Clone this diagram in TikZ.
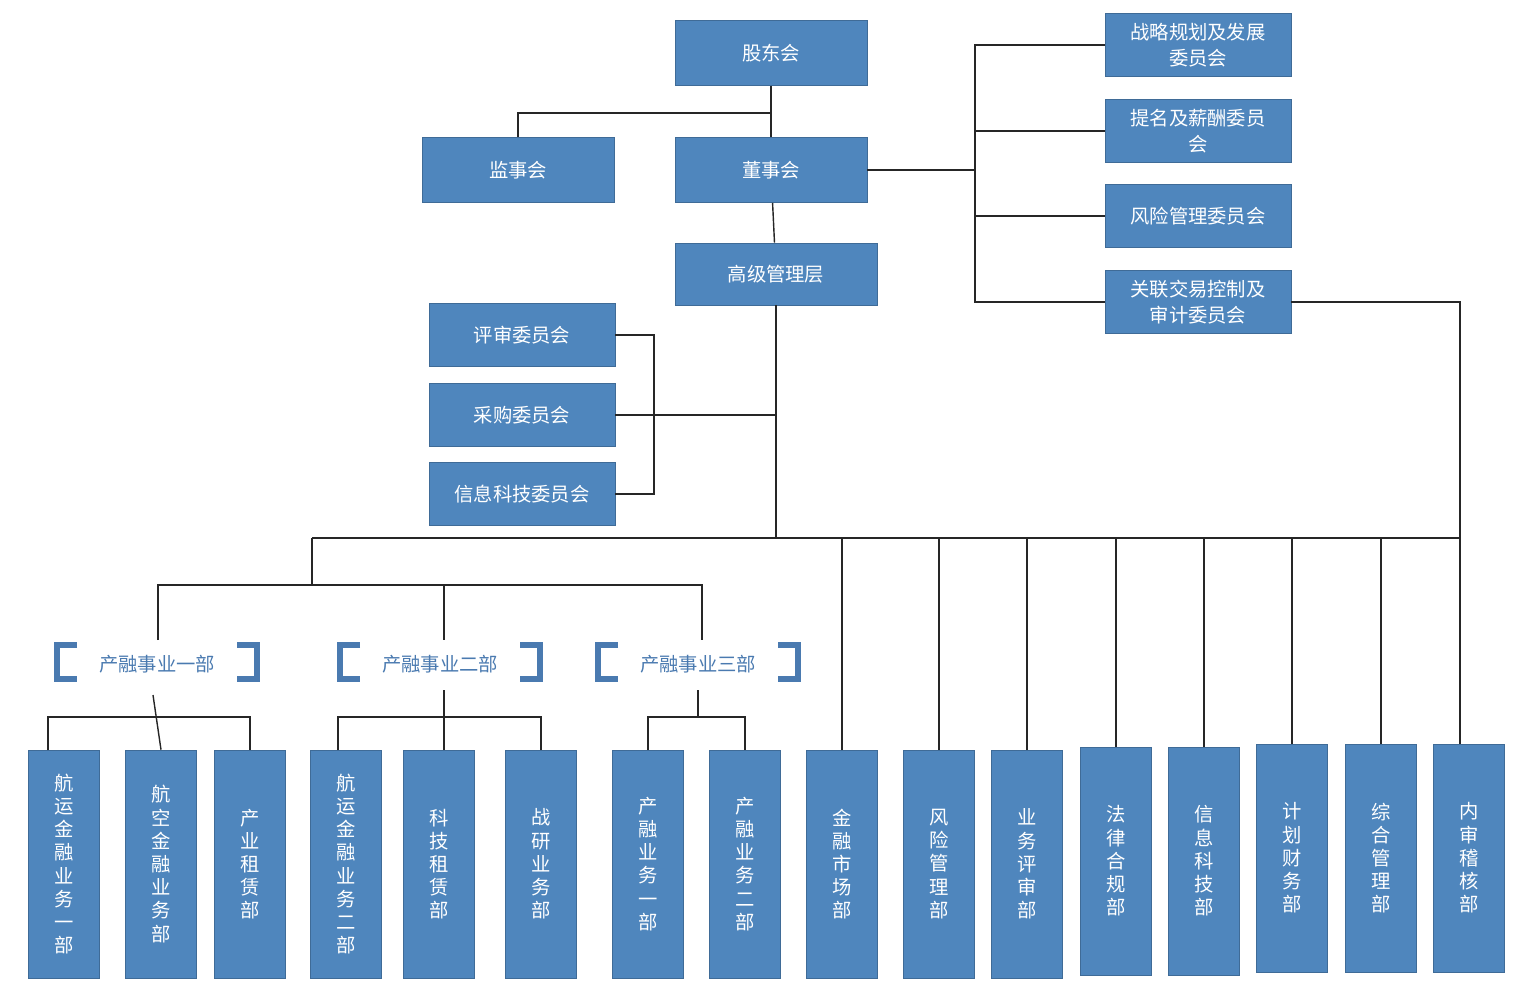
\documentclass[tikz,border=0pt]{standalone}
\usepackage{fontspec}
\setmainfont{Noto Sans CJK SC}
\usetikzlibrary{positioning}
\definecolor{boxblue}{HTML}{4F86BD}
\definecolor{labelblue}{HTML}{4A7AB0}

\begin{document}
\begin{tikzpicture}[x=0.02cm, y=-0.02cm,
  box/.style={rectangle, draw=boxblue!80!black, fill=boxblue, text=white, minimum width=3.84cm, minimum height=1.3cm, inner sep=1pt, align=center, font=\fontsize{11}{15}\selectfont},
  cbox/.style={box, minimum width=3.72cm, minimum height=1.26cm, text width=3.4cm},
  vbox/.style={rectangle, draw=boxblue!80!black, fill=boxblue, text=white, minimum width=1.42cm, minimum height=4.56cm, inner sep=1pt, align=center, font=\fontsize{11}{13.2}\selectfont},
  tag/.style={text=labelblue, font=\fontsize{11}{13}\selectfont},
  link/.style={draw=black!85, line width=0.8pt},
  brk/.style={draw=labelblue, line width=3pt}]
\useasboundingbox (0,0) rectangle (1516,992);

% top level
\node (gudong) [box] at (771,53) {股东会};
\node (jianshi) [box] at (518,170) {监事会};
\node (dongshi) [box] at (771,170) {董事会};
\node (gaoguan) [box, minimum width=4.04cm, minimum height=1.24cm] at (776,274) {高级管理层};

% board committees
\node (zhanlue) [cbox] at (1198,45) {战略规划及发展\\委员会};
\node (timing) [cbox] at (1198,131) {提名及薪酬委员\\会};
\node (fengxian) [cbox] at (1198,216) {风险管理委员会};
\node (guanlian) [cbox] at (1198,302) {关联交易控制及\\审计委员会};

% management committees
\node (pingshen) [cbox] at (522,335) {评审委员会};
\node (caigou) [cbox] at (522,415) {采购委员会};
\node (xinxi) [cbox] at (522,494) {信息科技委员会};

% business groups
\node (cr1) [tag] at (157,664) {产融事业一部};
\node (cr2) [tag] at (440,664) {产融事业二部};
\node (cr3) [tag] at (698,664) {产融事业三部};
\foreach \c in {157,440,698} {
  \draw[brk] (\c-80,645) -- (\c-100,645) -- (\c-100,679) -- (\c-80,679);
  \draw[brk] (\c+80,645) -- (\c+100,645) -- (\c+100,679) -- (\c+80,679);
}

% departments
\node (d1) [vbox] at (64,864) {航\\运\\金\\融\\业\\务\\一\\部};
\node (d2) [vbox] at (161,864) {航\\空\\金\\融\\业\\务\\部};
\node (d3) [vbox] at (250,864) {产\\业\\租\\赁\\部};
\node (d4) [vbox] at (346,864) {航\\运\\金\\融\\业\\务\\二\\部};
\node (d5) [vbox] at (439,864) {科\\技\\租\\赁\\部};
\node (d6) [vbox] at (541,864) {战\\研\\业\\务\\部};
\node (d7) [vbox] at (648,864) {产\\融\\业\\务\\一\\部};
\node (d8) [vbox] at (745,864) {产\\融\\业\\务\\二\\部};
\node (d9) [vbox] at (842,864) {金\\融\\市\\场\\部};
\node (d10) [vbox] at (939,864) {风\\险\\管\\理\\部};
\node (d11) [vbox] at (1027,864) {业\\务\\评\\审\\部};
\node (d12) [vbox] at (1116,861) {法\\律\\合\\规\\部};
\node (d13) [vbox] at (1204,861) {信\\息\\科\\技\\部};
\node (d14) [vbox] at (1292,858) {计\\划\\财\\务\\部};
\node (d15) [vbox] at (1381,858) {综\\合\\管\\理\\部};
\node (d16) [vbox] at (1469,858) {内\\审\\稽\\核\\部};

% connectors
\draw[link] (gudong) -- (dongshi);
\draw[link] (771,113) -| (jianshi);
\draw[link] (dongshi) -- (gaoguan);
\draw[link] (dongshi.east) -- (975,170);
\draw[link] (zhanlue.west) -- (975,45) -- (975,302) -- (guanlian.west);
\draw[link] (timing.west) -- (975,131);
\draw[link] (fengxian.west) -- (975,216);
\draw[link] (pingshen.east) -- (654,335) -- (654,494) -- (xinxi.east);
\draw[link] (caigou.east) -- (gaoguan.south |- caigou.east);
\draw[link] (gaoguan.south) -- (776,538);
\draw[link] (guanlian.east) -| (1460,744);
\draw[link] (312,538) -- (1460,538);
\draw[link] (312,538) -- (312,585);
\draw[link] (158,640) -- (158,585) -- (702,585) -- (702,640);
\draw[link] (444,585) -- (444,640);
% group one
\draw[link] (153,695) -- (d2.north);
\draw[link] (48,750) -- (48,717) -- (250,717) -- (d3.north);
% group two
\draw[link] (444,690) -- (444,750);
\draw[link] (338,750) -- (338,717) -- (541,717) -- (d6.north);
% group three
\draw[link] (698,690) -- (698,717);
\draw[link] (d7.north) -- (648,717) -- (745,717) -- (d8.north);
% stand-alone departments
\foreach \d in {d9,d10,d11,d12,d13,d14,d15}
  \draw[link] (\d.north) -- (\d.north |- 0,538);
\end{tikzpicture}
\end{document}
